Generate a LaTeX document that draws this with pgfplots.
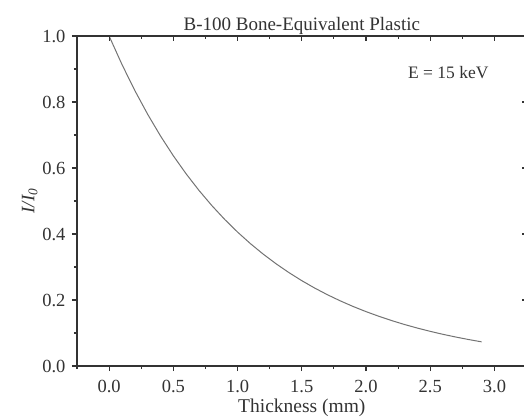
\documentclass[border=0pt]{standalone}
\usepackage{fontspec}
\setmainfont{Liberation Serif}
\usepackage{pgfplots}
\pgfplotsset{compat=1.18}
\pgfplotstableread{
x y
0.0 1.000
0.1 0.9138
0.2 0.8349
0.3 0.7629
0.4 0.6971
0.5 0.6370
0.6 0.5821
0.7 0.5319
0.8 0.4860
0.9 0.4441
1.0 0.4058
1.1 0.3708
1.2 0.3389
1.3 0.3097
1.4 0.2830
1.5 0.2586
1.6 0.2363
1.7 0.2159
1.8 0.1973
1.9 0.1803
2.0 0.1648
2.1 0.1506
2.2 0.1376
2.3 0.1257
2.4 0.1149
2.5 0.1050
2.6 0.0959
2.7 0.0877
2.8 0.0801
2.9 0.0732
}\curvedata
\begin{document}
\begin{tikzpicture}
\pgfplotsset{
  common/.style={
    scale only axis, width=449.6pt, height=330pt,
    xmin=-0.25, xmax=3.25, ymin=0, ymax=1.0,
    xtick={0,0.5,...,3.0}, ytick={0,0.2,...,1.0},
    minor xtick={-0.25,0.25,0.75,...,3.25}, minor ytick={0.1,0.3,...,0.9},
    major tick length=5pt, minor tick length=3pt,
    axis line style={line width=1.1pt, black!80},
    every tick/.style={line width=1.1pt, black!80},
    /pgf/number format/assume math mode=true,
    /pgf/number format/fixed, /pgf/number format/fixed zerofill,
    /pgf/number format/precision=1,
    tick label style={font=\fontsize{18.5}{20}\selectfont, black!80},
  }
}
\begin{axis}[common,
  xtick pos=bottom, ytick pos=left, tick align=outside,
  xticklabel style={yshift=-6pt},
  yticklabel style={xshift=-3pt},
  title={B-100 Bone-Equivalent Plastic},
  title style={font=\fontsize{19}{20}\selectfont, black!80, yshift=-8pt},
  xlabel={Thickness (mm)},
  xlabel style={font=\fontsize{19.5}{20}\selectfont, black!80, inner sep=0pt, yshift=-2pt},
  ylabel={\itshape I/I\textsubscript{0}},
  ylabel style={font=\fontsize{19}{20}\selectfont, black!80, yshift=-2pt},
]
\addplot[black!55, line width=1pt] table[x=x,y=y]{\curvedata};
\node[font=\fontsize{17.5}{20}\selectfont, black!80] at (axis cs:2.64,0.89) {E = 15 keV};
\coordinate (O) at (rel axis cs:0,0);
\end{axis}
\begin{axis}[common,
  xtick pos=top, ytick pos=right, tick align=inside,
  xticklabels={}, yticklabels={},
]
\end{axis}
\pgfresetboundingbox
\path (O) ++(-77pt,-50pt) rectangle ++(524pt,416pt);
\end{tikzpicture}
\end{document}
